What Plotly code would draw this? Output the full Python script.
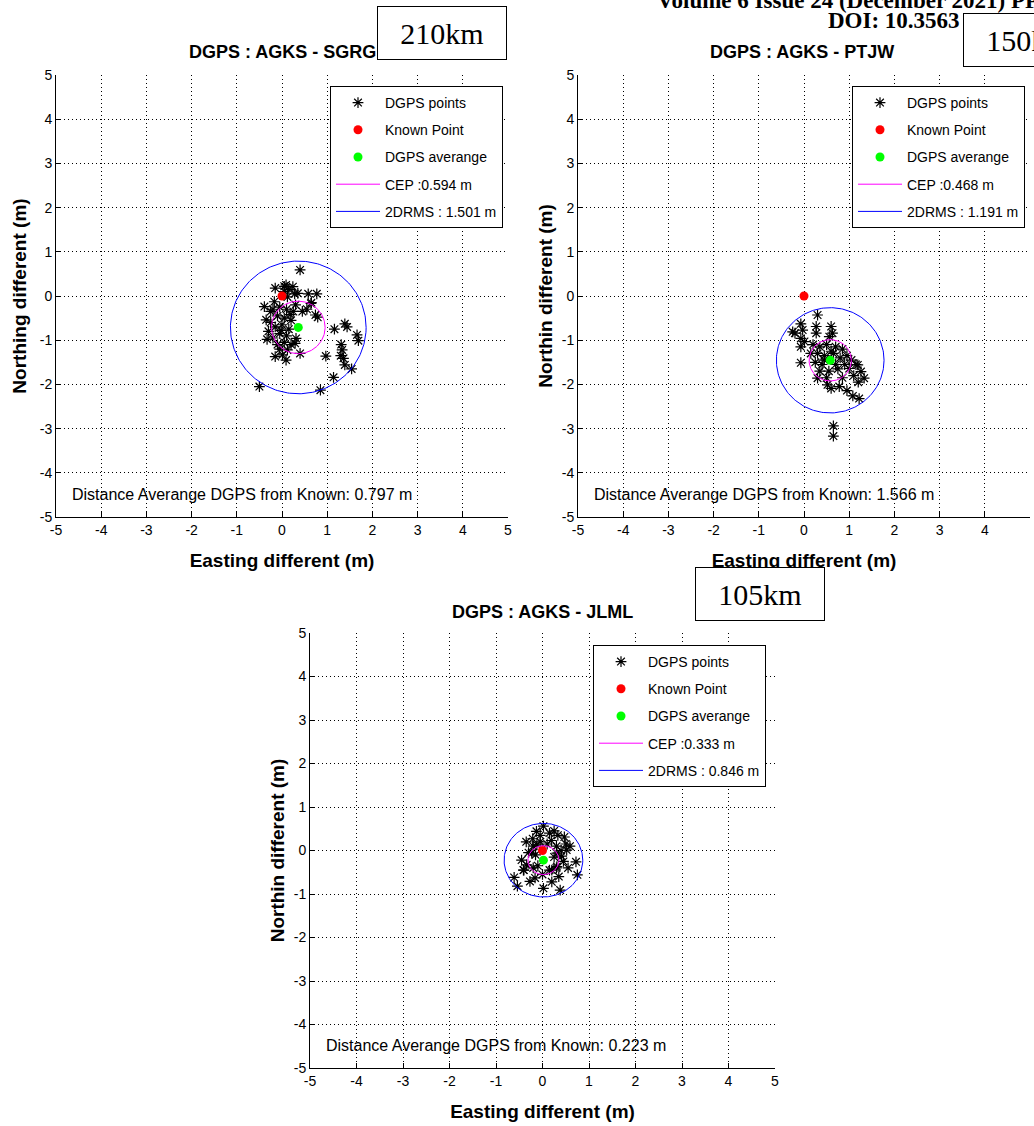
import numpy as np
import plotly.graph_objects as go

W, H = 1034, 1126

# ---------------- data ----------------
titles = ["DGPS : AGKS - SGRG", "DGPS : AGKS - PTJW", "DGPS : AGKS - JLML"]
ylabels = ["Northing different (m)", "Northin different (m)", "Northin different (m)"]
xlabel = "Easting different (m)"
baselines = ["210km", "150km", "105km"]

sgrg_east = [0.40, -0.15, 0.05, 0.15, 0.28, 0.12, 0.58, 0.77, 0.65, 0.64, 0.24, 0.09, 0.05, 0.35,
             -0.39, -0.17, -0.35, -0.33, -0.25, -0.20, -0.05, 0.10, 0.25, -0.10, 0.05, 0.20, -0.25,
             -0.15, 0.00, 0.15, -0.05, 0.10, -0.20, 0.05, -0.10, 0.20, 0.31, 0.29, -0.15, 0.01, 0.09,
             -0.05, 0.30, 0.45, 0.55, 0.74, 0.79, 0.40, -0.30, 0.18, -0.02, 0.12,
             1.16, 1.39, 1.44, 1.66, 1.69, 1.31, 1.33, 1.30, 1.36, 1.39, 1.54, 0.97, 1.14, 0.85, -0.50]
sgrg_north = [0.59, 0.18, 0.22, 0.15, 0.05, -0.02, 0.05, 0.05, -0.15, -0.17, 0.21, 0.25, 0.10, 0.06,
              -0.24, -0.13, -0.54, -0.98, -0.35, -0.30, -0.25, -0.30, -0.35, -0.45, -0.50, -0.55, -0.60,
              -0.70, -0.65, -0.75, -0.85, -0.90, -0.95, -1.05, -1.10, -1.10, -0.96, -1.07, -1.37, -1.33, -1.45,
              -1.20, -0.20, -0.35, -0.30, -0.43, -0.48, -1.30, -0.80, -0.42, -0.78, -1.22,
              -0.75, -0.63, -0.70, -0.88, -1.01, -1.10, -1.22, -1.35, -1.41, -1.56, -1.65, -1.36, -1.84, -2.13, -2.05]

ptjw_east = [0.30, -0.07, -0.25, -0.20, -0.03, -0.07, 0.01, -0.07, 0.27, 0.27, 0.60, 0.63, 0.56, -0.07,
             0.20, 0.35, 0.50, 0.70, 0.85, 0.30, 0.45, 0.65, 0.80, 0.95, 0.25, 0.40, 0.70, 0.90, 1.05,
             0.35, 0.55, 0.75, 1.00, 1.15, 0.50, 0.85, 1.10, 1.20, 1.26, 1.19, 1.33, 0.15, 0.60, 0.45,
             0.30, 0.52, 0.60, 0.78, 0.95, 1.08, 1.22, 0.65, 0.65]
ptjw_north = [-0.43, -0.63, -0.81, -0.84, -0.77, -0.96, -1.03, -1.15, -0.69, -0.84, -0.69, -0.84, -0.92, -1.51,
              -1.10, -1.15, -1.10, -1.15, -1.20, -1.30, -1.35, -1.30, -1.40, -1.35, -1.50, -1.55, -1.55, -1.55, -1.45,
              -1.70, -1.70, -1.65, -1.64, -1.55, -1.85, -1.85, -1.80, -1.95, -1.71, -1.56, -1.86, -1.30, -1.25, -1.45,
              -1.86, -2.01, -2.09, -2.05, -2.14, -2.26, -2.32, -2.94, -3.17]

jlml_east = [0.02, -0.13, 0.15, -0.21, 0.19, 0.33, 0.47, 0.59, 0.72, 0.75, -0.61, -0.54, -0.45, -0.34,
             -0.27, -0.16, 0.02, 0.20, 0.38, -0.20, -0.05, 0.10, 0.30, 0.40, -0.30, -0.15, 0.25, 0.45,
             -0.40, -0.20, 0.15, 0.30, 0.00, -0.10, 0.35, 0.55, -0.05, 0.25, -0.35, 0.50, -0.12, -0.23,
             0.31, 0.41, 0.31, 0.20, 0.52, -0.41]
jlml_north = [0.56, 0.44, 0.40, 0.27, 0.23, 0.35, 0.31, 0.10, -0.26, -0.56, -0.62, -0.82, -0.22, -0.33,
              -0.71, -0.63, -0.87, -0.72, -0.91, 0.10, 0.20, 0.15, 0.10, 0.00, -0.05, -0.10, -0.15, -0.25,
              -0.45, -0.40, -0.45, -0.40, -0.55, -0.35, -0.60, -0.40, 0.35, 0.45, 0.20, 0.15, 0.13, -0.06,
              -0.06, -0.13, -0.37, -0.45, 0.01, -0.45]

points_east = [sgrg_east, ptjw_east, jlml_east]
points_north = [sgrg_north, ptjw_north, jlml_north]
known_east = [0.0, 0.0, 0.0]
known_north = [0.0, 0.0, 0.0]
avg_east = [0.36, 0.58, 0.02]
avg_north = [-0.711, -1.455, -0.222]
cep_m = [0.594, 0.468, 0.333]
drms_m = [1.501, 1.191, 0.846]
dist_avg_m = [0.797, 1.566, 0.223]
tick_vals = [-5, -4, -3, -2, -1, 0, 1, 2, 3, 4, 5]
tick_labels = ["-5", "-4", "-3", "-2", "-1", "0", "1", "2", "3", "4", "5"]

# ---------------- layout geometry (pixels) ----------------
boxes = [(56, 508, 75, 517), (578, 1030, 75, 517), (310, 775, 633, 1068)]
legend_pos = [(330, 86), (852, 86), (593, 645)]
title_pos = [(282, 52), (802, 52), (542, 612)]
km_pos = [(442, 33), (1028, 40), (760, 594)]
ytitle_standoff = [8, 4, 4]

def px(x):
    return x / W

def py(y):
    return (H - y) / H

fig = go.Figure()
SANS = "Liberation Sans, Arial, sans-serif"
SERIF = "Liberation Serif, Times New Roman, serif"

theta = np.linspace(0, 2 * np.pi, 241)
for i in range(3):
    sfx = "" if i == 0 else str(i + 1)
    xa, ya = "x" + sfx, "y" + sfx
    lg = "legend" + sfx
    fig.add_trace(go.Scatter(x=points_east[i], y=points_north[i], mode="markers", name="DGPS points",
                             xaxis=xa, yaxis=ya, legend=lg, legendgroup=f"a{i}",
                             marker=dict(symbol="asterisk-open", size=9, color="black",
                                         line=dict(color="black", width=1.2))))
    fig.add_trace(go.Scatter(x=[known_east[i]], y=[known_north[i]], mode="markers", name="Known Point",
                             xaxis=xa, yaxis=ya, legend=lg, legendgroup=f"b{i}",
                             marker=dict(symbol="circle", size=9, color="#ff0000")))
    fig.add_trace(go.Scatter(x=[avg_east[i]], y=[avg_north[i]], mode="markers", name="DGPS averange",
                             xaxis=xa, yaxis=ya, legend=lg, legendgroup=f"c{i}",
                             marker=dict(symbol="circle", size=9, color="#00ff00")))
    fig.add_trace(go.Scatter(x=avg_east[i] + cep_m[i] * np.cos(theta),
                             y=avg_north[i] + cep_m[i] * np.sin(theta),
                             mode="lines", name=f"CEP :{cep_m[i]:.3f} m",
                             xaxis=xa, yaxis=ya, legend=lg, legendgroup=f"d{i}",
                             line=dict(color="#ff00ff", width=1)))
    fig.add_trace(go.Scatter(x=avg_east[i] + drms_m[i] * np.cos(theta),
                             y=avg_north[i] + drms_m[i] * np.sin(theta),
                             mode="lines", name=f"2DRMS : {drms_m[i]:.3f} m",
                             xaxis=xa, yaxis=ya, legend=lg, legendgroup=f"e{i}",
                             line=dict(color="#0000ff", width=1)))

layout = dict(width=W, height=H, margin=dict(l=0, r=0, t=0, b=0, autoexpand=False),
              paper_bgcolor="white", plot_bgcolor="white", showlegend=True)

annotations = []
for i in range(3):
    sfx = "" if i == 0 else str(i + 1)
    l, r, t, b = boxes[i]
    common = dict(range=[-5, 5], tickmode="array", tickvals=tick_vals, ticktext=tick_labels,
                  automargin=False,
                  showgrid=True, gridcolor="#000000", gridwidth=1, griddash="1px,3px",
                  zeroline=False, showline=True, linecolor="black", linewidth=1,
                  ticks="inside", ticklen=5, tickcolor="black",
                  tickfont=dict(family=SANS, size=14, color="black"))
    layout["xaxis" + sfx] = dict(domain=[px(l), px(r)], anchor="y" + sfx,
                                 title=dict(text=xlabel, standoff=16,
                                            font=dict(family=SANS, size=19, color="black", weight="bold")),
                                 **common)
    layout["yaxis" + sfx] = dict(domain=[py(b), py(t)], anchor="x" + sfx,
                                 title=dict(text=ylabels[i], standoff=ytitle_standoff[i],
                                            font=dict(family=SANS, size=19, color="black", weight="bold")),
                                 **common)
    lx, ly = legend_pos[i]
    layout["legend" + sfx] = dict(x=px(lx), y=py(ly), xref="paper", yref="paper",
                                  xanchor="left", yanchor="top", bgcolor="white",
                                  bordercolor="black", borderwidth=1, itemwidth=44,
                                  traceorder="grouped", tracegroupgap=6,
                                  font=dict(family=SANS, size=14, color="black"))
    annotations.append(dict(xref="x" + sfx, yref="y" + sfx, x=-4.7, y=-4.48, xanchor="left",
                            yanchor="middle", showarrow=False,
                            text=f"Distance Averange DGPS from Known: {dist_avg_m[i]:.3f} m",
                            font=dict(family=SANS, size=16, color="black")))
    tx, ty = title_pos[i]
    annotations.append(dict(xref="paper", yref="paper", x=px(tx), y=py(ty), xanchor="center",
                            yanchor="middle", showarrow=False, text=titles[i],
                            font=dict(family=SANS, size=18, color="black", weight="bold")))

annotations.append(dict(xref="paper", yref="paper", x=px(655), y=py(0), xanchor="left",
                        yanchor="middle", showarrow=False,
                        text="Volume 6 Issue 24 (December 2021) PP",
                        font=dict(family=SERIF, size=23, color="black", weight="bold")))
annotations.append(dict(xref="paper", yref="paper", x=px(962), y=py(21), xanchor="right",
                        yanchor="middle", showarrow=False, text="DOI: 10.3563",
                        font=dict(family=SERIF, size=23, color="black", weight="bold")))
for i in range(3):
    kx, ky = km_pos[i]
    annotations.append(dict(xref="paper", yref="paper", x=px(kx), y=py(ky), xanchor="center",
                            yanchor="middle", showarrow=False, text=baselines[i],
                            width=128, height=52, borderpad=0, bgcolor="white",
                            bordercolor="black", borderwidth=1,
                            font=dict(family=SERIF, size=30, color="black")))

layout["annotations"] = annotations
fig.update_layout(**layout)
fig.write_html("out.html", config={"displayModeBar": False},
               post_script="document.body.style.margin='0px';")
